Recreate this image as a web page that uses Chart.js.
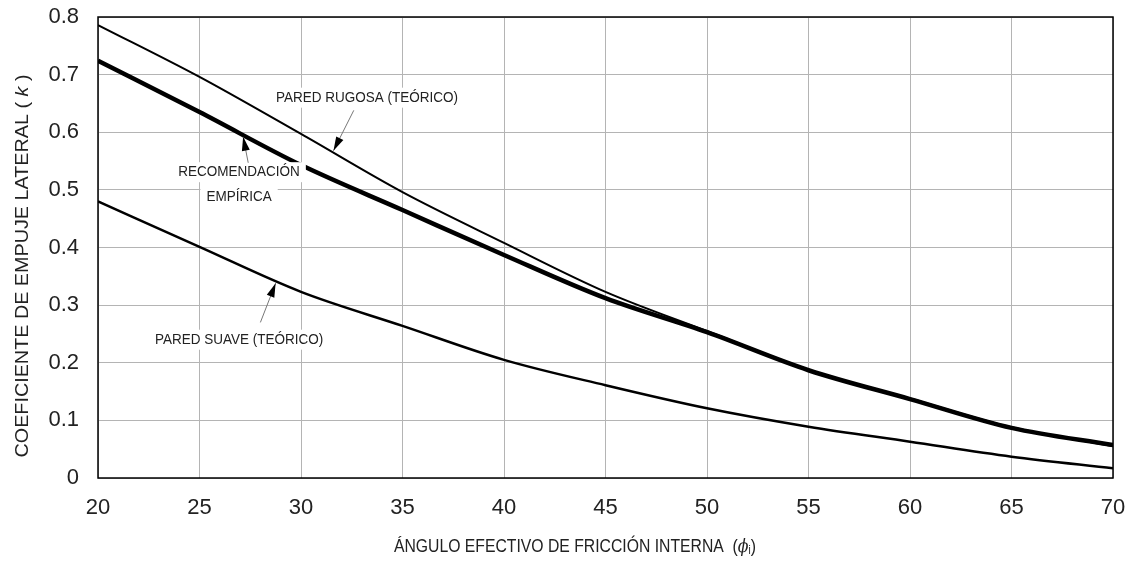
<!DOCTYPE html>
<html>
<head>
<meta charset="utf-8">
<script src="https://cdn.jsdelivr.net/npm/chart.js@4/dist/chart.umd.min.js"></script>
<style>
  html, body { margin: 0; padding: 0; background: #fff; }
  #wrap { width: 1130px; height: 565px; }
</style>
</head>
<body>
<div id="wrap"><canvas id="grafica" width="1130" height="565"></canvas></div>
<script>
// angulo de friccion interna (grados)
const angulos = [20, 25, 30, 35, 40, 45, 50, 55, 60, 65, 70];
// coeficiente k
const paredRugosa = [0.786, 0.696, 0.597, 0.496, 0.408, 0.323, 0.255, 0.188, 0.138, 0.088, 0.055];
const recomendacion = [0.724, 0.635, 0.543, 0.465, 0.387, 0.312, 0.253, 0.187, 0.137, 0.087, 0.057];
const paredSuave = [0.480, 0.401, 0.323, 0.264, 0.205, 0.161, 0.121, 0.089, 0.063, 0.037, 0.017];
const ticksY = [0, 0.1, 0.2, 0.3, 0.4, 0.5, 0.6, 0.7, 0.8];

// etiquetas con flecha: texto en coordenadas de datos, flecha desde/hasta
const notas = [
  { lineas: ["PARED RUGOSA (TEÓRICO)"], x: 33.25, y: 0.660, desde: [32.6, 0.638], hasta: [31.6, 0.568] },
  { lineas: ["RECOMENDACIÓN", "EMPÍRICA"], x: 26.95, y: 0.509, desde: [27.4, 0.547], hasta: [27.15, 0.592] },
  { lineas: ["PARED SUAVE (TEÓRICO)"], x: 26.95, y: 0.240, desde: [28.0, 0.270], hasta: [28.75, 0.338] }
];

const fuente = "'Liberation Sans', Arial, sans-serif";

function punto(arr) {
  return angulos.map((a, i) => ({ x: a, y: arr[i] }));
}

// texto en trozos (para la letra griega en cursiva), centrado y comprimido a un ancho
function textoTrozos(ctx, trozos, cx, cy, rot, ancho) {
  let total = 0;
  trozos.forEach(t => { ctx.font = t.f; t.w = ctx.measureText(t.t).width; total += t.w; });
  const k = ancho / total;
  ctx.save();
  ctx.translate(cx, cy);
  ctx.rotate(rot);
  ctx.scale(k, 1);
  ctx.textAlign = "left";
  ctx.textBaseline = "middle";
  ctx.fillStyle = "#222";
  let x = -total / 2;
  trozos.forEach(t => {
    ctx.font = t.f;
    ctx.fillText(t.t, x, t.dy || 0);
    x += t.w;
  });
  ctx.restore();
}

const pluginNotas = {
  id: "notas",
  afterDatasetsDraw(chart) {
    const ctx = chart.ctx;
    const sx = chart.scales.x, sy = chart.scales.y;
    ctx.save();
    notas.forEach(n => {
      const cx = sx.getPixelForValue(n.x), cy = sy.getPixelForValue(n.y);
      const alto = 25;
      n.lineas.forEach((t, i) => {
        const ty = cy + (i - (n.lineas.length - 1) / 2) * alto;
        ctx.font = "15px " + fuente;
        const w = ctx.measureText(t).width * 0.9;
        ctx.fillStyle = "#fff";
        ctx.fillRect(cx - w / 2 - 6, ty - 10, w + 12, 20);
        textoTrozos(ctx, [{ t: t, f: "15px " + fuente }], cx, ty, 0, w);
      });
      // flecha
      const x1 = sx.getPixelForValue(n.desde[0]), y1 = sy.getPixelForValue(n.desde[1]);
      const x2 = sx.getPixelForValue(n.hasta[0]), y2 = sy.getPixelForValue(n.hasta[1]);
      const ang = Math.atan2(y2 - y1, x2 - x1);
      ctx.strokeStyle = "#777";
      ctx.lineWidth = 1;
      ctx.beginPath();
      ctx.moveTo(x1, y1);
      ctx.lineTo(x2, y2);
      ctx.stroke();
      const L = 14, W = 4;
      ctx.fillStyle = "#000";
      ctx.beginPath();
      ctx.moveTo(x2, y2);
      ctx.lineTo(x2 - L * Math.cos(ang) + W * Math.sin(ang), y2 - L * Math.sin(ang) - W * Math.cos(ang));
      ctx.lineTo(x2 - L * Math.cos(ang) - W * Math.sin(ang), y2 - L * Math.sin(ang) + W * Math.cos(ang));
      ctx.closePath();
      ctx.fill();
    });
    // marco
    const a = chart.chartArea;
    ctx.strokeStyle = "#000";
    ctx.lineWidth = 1.5;
    ctx.strokeRect(a.left, a.top, a.right - a.left, a.bottom - a.top);

    // titulos de ejes
    const f = "19px " + fuente;
    const fi = "italic 19px 'DejaVu Serif', serif";
    textoTrozos(ctx, [
      { t: "ÁNGULO EFECTIVO DE FRICCIÓN INTERNA  (", f: f },
      { t: "ϕ", f: fi },
      { t: "i", f: "12px " + fuente, dy: 4 },
      { t: ")", f: f }
    ], 575, 547, 0, 362);
    textoTrozos(ctx, [
      { t: "COEFICIENTE DE EMPUJE LATERAL ( ", f: f },
      { t: "k", f: "italic 19px " + fuente },
      { t: " )", f: f }
    ], 23, 266, -Math.PI / 2, 383);
    ctx.restore();
  }
};

const ctx = document.getElementById("grafica").getContext("2d");
new Chart(ctx, {
  type: "line",
  data: {
    datasets: [
      { label: "Pared rugosa (teórico)", data: punto(paredRugosa), borderColor: "#000", borderWidth: 2, cubicInterpolationMode: "monotone", pointRadius: 0 },
      { label: "Recomendación empírica", data: punto(recomendacion), borderColor: "#000", borderWidth: 4.5, cubicInterpolationMode: "monotone", pointRadius: 0 },
      { label: "Pared suave (teórico)", data: punto(paredSuave), borderColor: "#000", borderWidth: 2.5, cubicInterpolationMode: "monotone", pointRadius: 0 }
    ]
  },
  options: {
    responsive: false,
    animation: false,
    layout: { padding: { top: 17, right: 17, left: 0, bottom: 0 } },
    plugins: { legend: { display: false }, tooltip: { enabled: false } },
    scales: {
      x: {
        type: "linear",
        min: 20, max: 70,
        afterBuildTicks: s => { s.ticks = angulos.map(v => ({ value: v })); },
        afterFit: s => { s.height = 87; s.paddingLeft = 0; s.paddingRight = 0; },
        grid: { color: "#b4b4b4", lineWidth: 1, drawTicks: false },
        border: { display: false },
        ticks: { color: "#222", padding: 17, font: { size: 22, family: fuente } }
      },
      y: {
        min: 0, max: 0.8,
        afterBuildTicks: s => { s.ticks = ticksY.map(v => ({ value: v })); },
        afterFit: s => { s.width = 98; s.paddingTop = 0; s.paddingBottom = 0; },
        grid: { color: "#b4b4b4", lineWidth: 1, drawTicks: false },
        border: { display: false },
        ticks: { color: "#222", padding: 19, font: { size: 22, family: fuente }, callback: v => v === 0 ? "0" : v.toFixed(1) }
      }
    }
  },
  plugins: [pluginNotas]
});
</script>
</body>
</html>
